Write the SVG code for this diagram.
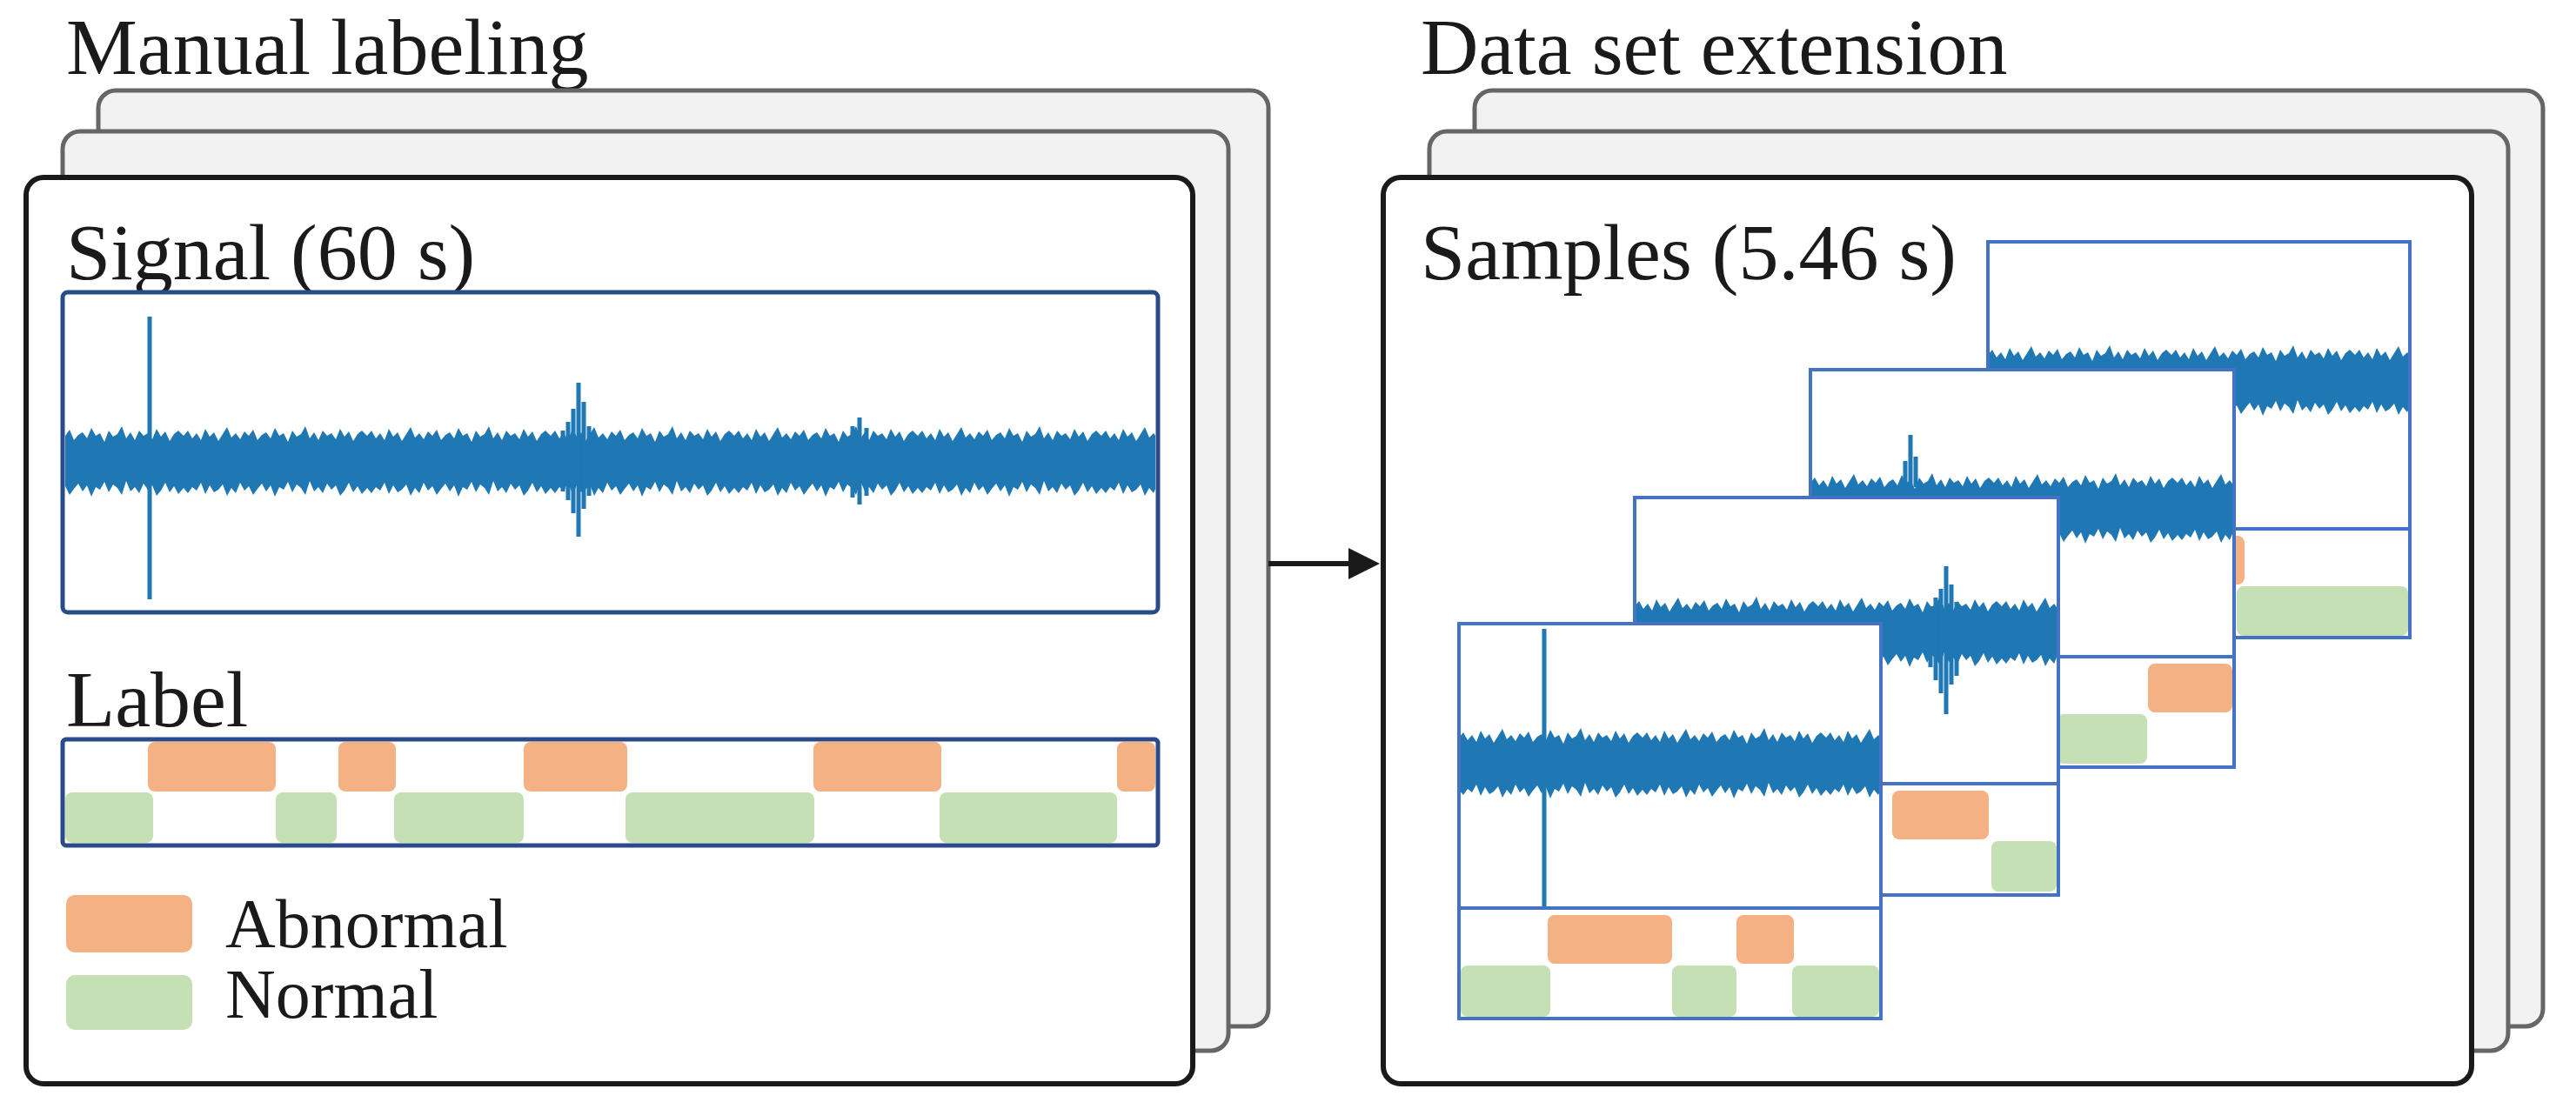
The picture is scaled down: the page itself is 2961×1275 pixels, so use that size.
<svg xmlns="http://www.w3.org/2000/svg" width="2961" height="1275" viewBox="0 0 2961 1275">
<style>
.t{font-family:"Liberation Serif","Times New Roman",serif;font-size:92px;fill:#1a1a1a}
.l{font-family:"Liberation Serif","Times New Roman",serif;font-size:80px;fill:#1a1a1a}
.back{fill:#f2f2f2;stroke:#666;stroke-width:5}
.front{fill:#fff;stroke:#1a1a1a;stroke-width:6}
.box{fill:#fff;stroke:#2b4a8a;stroke-width:5}
.pan{fill:#fff;stroke:#4472c4;stroke-width:4}
.ab{fill:#f4b183}
.no{fill:#c5e0b4}
.sp{stroke:#1f77b4;stroke-width:5;fill:none}
</style>
<defs>
<pattern id="noise" patternUnits="userSpaceOnUse" x="0" y="-60" width="211" height="120">
<polygon fill="#1f77b4" points="0,30 5,24 10,33 15,27 20,35 25,22 30,31 35,26 40,36 45,28 50,20 55,32 60,27 65,34 70,25 75,30 80,23 85,35 90,29 95,26 100,33 105,21 110,30 115,27 120,37 125,24 130,31 135,28 140,19 145,33 150,26 155,35 160,24 165,30 170,27 175,34 180,22 185,31 190,25 195,36 200,28 205,24 211,30 211,90 205,97 200,88 195,95 190,84 185,93 180,99 175,87 170,92 165,85 160,96 155,89 150,94 145,82 140,98 135,90 130,86 125,95 120,83 115,92 110,89 105,100 100,87 95,94 90,85 85,91 80,98 75,88 70,93 65,84 60,96 55,90 50,99 45,86 40,92 35,95 30,87 25,97 20,84 15,93 10,89 5,96 0,90"/>
</pattern>
<marker id="arr" markerWidth="6" markerHeight="6" refX="5" refY="3" orient="auto" markerUnits="strokeWidth"><path d="M0,0 L6,3 L0,6 Z" fill="#1a1a1a"/></marker>
</defs>

<g id="manual">
<text class="t" x="76" y="85">Manual labeling</text>
<rect class="back" x="113" y="104" width="1345" height="1076" rx="20"/>
<rect class="back" x="72" y="151" width="1340" height="1057" rx="20"/>
<rect class="front" x="30" y="204" width="1341" height="1042" rx="20"/>
<text class="t" x="76" y="321">Signal (60 s)</text>
<rect class="box" x="72" y="336" width="1259" height="368" rx="6"/>
<g transform="translate(0,531)"><rect x="75" y="-60" width="1253" height="120" fill="url(#noise)"/></g>
<path class="sp" d="M172,364 V689"/>
<path class="sp" d="M665,440 V617 M659,470 V590 M671,462 V585 M653,485 V575 M677,490 V570 M647,495 V565"/>
<path class="sp" d="M980,490 V572 M988,480 V580 M996,492 V570"/>
<text class="t" x="76" y="835">Label</text>
<rect class="box" x="72" y="850" width="1259" height="122" rx="4"/>
<rect class="ab" x="170" y="853" width="147" height="57" rx="8"/>
<rect class="ab" x="389" y="853" width="66" height="57" rx="8"/>
<rect class="ab" x="602" y="853" width="119" height="57" rx="8"/>
<rect class="ab" x="935" y="853" width="147" height="57" rx="8"/>
<rect class="ab" x="1284" y="853" width="44" height="57" rx="8"/>
<rect class="no" x="75" y="911" width="101" height="58" rx="8"/>
<rect class="no" x="317" y="911" width="70" height="58" rx="8"/>
<rect class="no" x="453" y="911" width="149" height="58" rx="8"/>
<rect class="no" x="719" y="911" width="217" height="58" rx="8"/>
<rect class="no" x="1080" y="911" width="204" height="58" rx="8"/>
<rect class="ab" x="76" y="1029" width="145" height="66" rx="10"/>
<text class="l" x="259" y="1089">Abnormal</text>
<rect class="no" x="76" y="1121" width="145" height="63" rx="10"/>
<text class="l" x="259" y="1170">Normal</text>
</g>

<g id="connectors">
<line x1="1458" y1="648" x2="1580" y2="648" stroke="#1a1a1a" stroke-width="6" marker-end="url(#arr)"/>
</g>

<g id="extension">
<text class="t" x="1633" y="85">Data set extension</text>
<rect class="back" x="1695" y="104" width="1228" height="1076" rx="20"/>
<rect class="back" x="1643" y="151" width="1240" height="1057" rx="20"/>
<rect class="front" x="1590" y="204" width="1251" height="1042" rx="20"/>
<text class="t" x="1633" y="321">Samples (5.46 s)</text>

<g id="panel4" transform="translate(2285,278)">
<rect class="pan" x="0" y="0" width="485" height="455"/>
<line x1="0" y1="330" x2="485" y2="330" stroke="#4472c4" stroke-width="4"/>
<g transform="translate(0,160)"><rect x="2" y="-60" width="481" height="120" fill="url(#noise)"/></g>
<rect class="ab" x="200" y="338" width="95" height="56" rx="8"/>
<rect class="no" x="286" y="396" width="197" height="57" rx="8"/>
</g>
<g id="panel3" transform="translate(2081,425)">
<rect class="pan" x="0" y="0" width="487" height="457"/>
<line x1="0" y1="330" x2="487" y2="330" stroke="#4472c4" stroke-width="4"/>
<g transform="translate(0,160)"><rect x="2" y="-60" width="483" height="120" fill="url(#noise)"/></g>
<path class="sp" d="M115,75 V140 M109,105 V135 M121,100 V135"/>
<rect class="ab" x="388" y="338" width="97" height="56" rx="8"/>
<rect class="no" x="283" y="396" width="104" height="57" rx="8"/>
</g>
<g id="panel2" transform="translate(1879,572)">
<rect class="pan" x="0" y="0" width="487" height="457"/>
<line x1="0" y1="329" x2="487" y2="329" stroke="#4472c4" stroke-width="4"/>
<g transform="translate(0,155)"><rect x="2" y="-60" width="483" height="120" fill="url(#noise)"/></g>
<path class="sp" d="M358,79 V249 M352,105 V225 M364,100 V215 M346,115 V210 M370,120 V205 M340,125 V195"/>
<rect class="ab" x="296" y="337" width="111" height="56" rx="8"/>
<rect class="no" x="410" y="395" width="75" height="58" rx="8"/>
</g>
<g id="panel1" transform="translate(1677,717)">
<rect class="pan" x="0" y="0" width="485" height="454"/>
<line x1="0" y1="327" x2="485" y2="327" stroke="#4472c4" stroke-width="4"/>
<g transform="translate(0,161)"><rect x="2" y="-60" width="481" height="120" fill="url(#noise)"/></g>
<path class="sp" d="M98,6 V325"/>
<rect class="ab" x="102" y="335" width="143" height="56" rx="8"/>
<rect class="ab" x="319" y="335" width="66" height="56" rx="8"/>
<rect class="no" x="2" y="393" width="103" height="59" rx="8"/>
<rect class="no" x="245" y="393" width="74" height="59" rx="8"/>
<rect class="no" x="383" y="393" width="100" height="59" rx="8"/>
</g>
</g>
</svg>
